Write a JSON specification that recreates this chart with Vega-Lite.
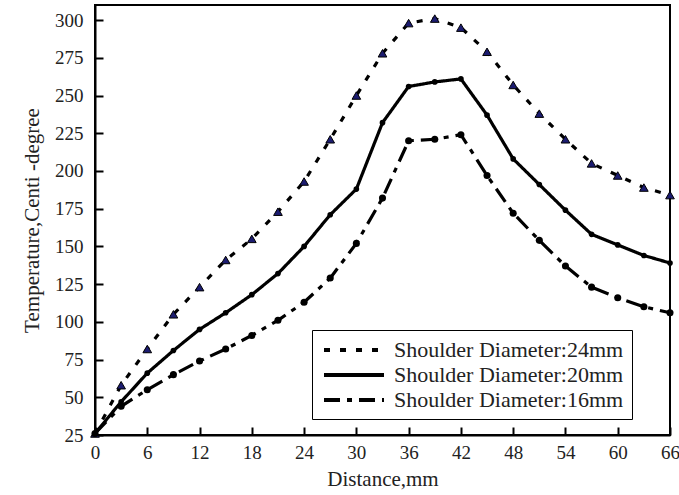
{
  "$schema": "https://vega.github.io/schema/vega-lite/v6.json",
  "width": 575,
  "height": 430,
  "autosize": {"type": "none"},
  "padding": {"left": 95, "top": 5, "right": 9, "bottom": 60},
  "background": "white",
  "config": {
    "view": {"stroke": "black", "strokeWidth": 2},
    "font": "Liberation Serif",
    "style": {
      "guide-label": {"font": "Liberation Serif", "fill": "#222"},
      "guide-title": {"font": "Liberation Serif", "fill": "#222"}
    },
    "axis": {
      "grid": false,
      "domainColor": "black",
      "domainWidth": 2,
      "tickColor": "black",
      "tickWidth": 2,
      "tickSize": -8,
      "labelFont": "Liberation Serif",
      "labelColor": "#222",
      "labelFontSize": 19,
      "titleFont": "Liberation Serif",
      "titleFontSize": 21,
      "titleFontWeight": "normal",
      "titleColor": "#222"
    },
    "legend": {
      "labelFont": "Liberation Serif",
      "labelFontSize": 22,
      "labelColor": "#222"
    }
  },
  "data": {
    "values": [
      {"d": 0, "t": 26, "s": "Shoulder Diameter:24mm"},
      {"d": 3, "t": 58, "s": "Shoulder Diameter:24mm"},
      {"d": 6, "t": 82, "s": "Shoulder Diameter:24mm"},
      {"d": 9, "t": 105, "s": "Shoulder Diameter:24mm"},
      {"d": 12, "t": 123, "s": "Shoulder Diameter:24mm"},
      {"d": 15, "t": 141, "s": "Shoulder Diameter:24mm"},
      {"d": 18, "t": 155, "s": "Shoulder Diameter:24mm"},
      {"d": 21, "t": 173, "s": "Shoulder Diameter:24mm"},
      {"d": 24, "t": 193, "s": "Shoulder Diameter:24mm"},
      {"d": 27, "t": 221, "s": "Shoulder Diameter:24mm"},
      {"d": 30, "t": 250, "s": "Shoulder Diameter:24mm"},
      {"d": 33, "t": 278, "s": "Shoulder Diameter:24mm"},
      {"d": 36, "t": 298, "s": "Shoulder Diameter:24mm"},
      {"d": 39, "t": 301, "s": "Shoulder Diameter:24mm"},
      {"d": 42, "t": 295, "s": "Shoulder Diameter:24mm"},
      {"d": 45, "t": 279, "s": "Shoulder Diameter:24mm"},
      {"d": 48, "t": 257, "s": "Shoulder Diameter:24mm"},
      {"d": 51, "t": 238, "s": "Shoulder Diameter:24mm"},
      {"d": 54, "t": 221, "s": "Shoulder Diameter:24mm"},
      {"d": 57, "t": 205, "s": "Shoulder Diameter:24mm"},
      {"d": 60, "t": 197, "s": "Shoulder Diameter:24mm"},
      {"d": 63, "t": 189, "s": "Shoulder Diameter:24mm"},
      {"d": 66, "t": 184, "s": "Shoulder Diameter:24mm"},
      {"d": 0, "t": 26, "s": "Shoulder Diameter:20mm"},
      {"d": 3, "t": 47, "s": "Shoulder Diameter:20mm"},
      {"d": 6, "t": 66, "s": "Shoulder Diameter:20mm"},
      {"d": 9, "t": 81, "s": "Shoulder Diameter:20mm"},
      {"d": 12, "t": 95, "s": "Shoulder Diameter:20mm"},
      {"d": 15, "t": 106, "s": "Shoulder Diameter:20mm"},
      {"d": 18, "t": 118, "s": "Shoulder Diameter:20mm"},
      {"d": 21, "t": 132, "s": "Shoulder Diameter:20mm"},
      {"d": 24, "t": 150, "s": "Shoulder Diameter:20mm"},
      {"d": 27, "t": 171, "s": "Shoulder Diameter:20mm"},
      {"d": 30, "t": 188, "s": "Shoulder Diameter:20mm"},
      {"d": 33, "t": 232, "s": "Shoulder Diameter:20mm"},
      {"d": 36, "t": 256, "s": "Shoulder Diameter:20mm"},
      {"d": 39, "t": 259, "s": "Shoulder Diameter:20mm"},
      {"d": 42, "t": 261, "s": "Shoulder Diameter:20mm"},
      {"d": 45, "t": 237, "s": "Shoulder Diameter:20mm"},
      {"d": 48, "t": 208, "s": "Shoulder Diameter:20mm"},
      {"d": 51, "t": 191, "s": "Shoulder Diameter:20mm"},
      {"d": 54, "t": 174, "s": "Shoulder Diameter:20mm"},
      {"d": 57, "t": 158, "s": "Shoulder Diameter:20mm"},
      {"d": 60, "t": 151, "s": "Shoulder Diameter:20mm"},
      {"d": 63, "t": 144, "s": "Shoulder Diameter:20mm"},
      {"d": 66, "t": 139, "s": "Shoulder Diameter:20mm"},
      {"d": 0, "t": 26, "s": "Shoulder Diameter:16mm"},
      {"d": 3, "t": 44, "s": "Shoulder Diameter:16mm"},
      {"d": 6, "t": 55, "s": "Shoulder Diameter:16mm"},
      {"d": 9, "t": 65, "s": "Shoulder Diameter:16mm"},
      {"d": 12, "t": 74, "s": "Shoulder Diameter:16mm"},
      {"d": 15, "t": 82, "s": "Shoulder Diameter:16mm"},
      {"d": 18, "t": 91, "s": "Shoulder Diameter:16mm"},
      {"d": 21, "t": 101, "s": "Shoulder Diameter:16mm"},
      {"d": 24, "t": 113, "s": "Shoulder Diameter:16mm"},
      {"d": 27, "t": 129, "s": "Shoulder Diameter:16mm"},
      {"d": 30, "t": 152, "s": "Shoulder Diameter:16mm"},
      {"d": 33, "t": 182, "s": "Shoulder Diameter:16mm"},
      {"d": 36, "t": 220, "s": "Shoulder Diameter:16mm"},
      {"d": 39, "t": 221, "s": "Shoulder Diameter:16mm"},
      {"d": 42, "t": 224, "s": "Shoulder Diameter:16mm"},
      {"d": 45, "t": 197, "s": "Shoulder Diameter:16mm"},
      {"d": 48, "t": 172, "s": "Shoulder Diameter:16mm"},
      {"d": 51, "t": 154, "s": "Shoulder Diameter:16mm"},
      {"d": 54, "t": 137, "s": "Shoulder Diameter:16mm"},
      {"d": 57, "t": 123, "s": "Shoulder Diameter:16mm"},
      {"d": 60, "t": 116, "s": "Shoulder Diameter:16mm"},
      {"d": 63, "t": 110, "s": "Shoulder Diameter:16mm"},
      {"d": 66, "t": 106, "s": "Shoulder Diameter:16mm"}
    ]
  },
  "encoding": {
    "x": {
      "field": "d", "type": "quantitative", "title": "Distance,mm",
      "scale": {"domain": [0, 66], "nice": false, "zero": false},
      "axis": {"values": [0, 6, 12, 18, 24, 30, 36, 42, 48, 54, 60, 66], "labelPadding": 16, "titlePadding": 6, "labelFlush": false}
    },
    "y": {
      "field": "t", "type": "quantitative", "title": "Temperature,Centi -degree",
      "scale": {"domain": [25, 310], "nice": false, "zero": false},
      "axis": {"values": [25, 50, 75, 100, 125, 150, 175, 200, 225, 250, 275, 300], "labelPadding": 20, "titlePadding": 12, "labelFlush": false}
    }
  },
  "layer": [
    {
      "mark": {"type": "line", "color": "black", "strokeWidth": 3.2},
      "encoding": {
        "strokeDash": {
          "field": "s", "type": "nominal",
          "sort": ["Shoulder Diameter:24mm", "Shoulder Diameter:20mm", "Shoulder Diameter:16mm"],
          "scale": {
            "domain": ["Shoulder Diameter:24mm", "Shoulder Diameter:20mm", "Shoulder Diameter:16mm"],
            "range": [[6, 10], [1, 0], [16, 7, 5, 7]]
          },
          "legend": {
            "title": null,
            "orient": "none",
            "legendX": 217,
            "legendY": 325,
            "symbolType": "M-3,0H3",
            "symbolStrokeColor": "black",
            "symbolStrokeWidth": 4,
            "symbolSize": 400,
            "symbolOffset": 22,
            "labelFont": "Liberation Serif",
            "labelFontSize": 22,
            "labelColor": "#222",
            "labelOffset": 28,
            "labelLimit": 400,
            "labelExpr": "datum.label + '       '",
            "rowPadding": 2,
            "padding": 8,
            "strokeColor": "black",
            "fillColor": "white"
          }
        }
      }
    },
    {
      "transform": [{"filter": "datum.s == 'Shoulder Diameter:24mm'"}],
      "mark": {"type": "point", "shape": "triangle-up", "filled": true, "fill": "#1c1c70", "stroke": "black", "strokeWidth": 1, "size": 75, "opacity": 1}
    },
    {
      "transform": [{"filter": "datum.s == 'Shoulder Diameter:20mm'"}],
      "mark": {"type": "point", "shape": "circle", "filled": true, "fill": "black", "size": 32, "opacity": 1}
    },
    {
      "transform": [{"filter": "datum.s == 'Shoulder Diameter:16mm'"}],
      "mark": {"type": "point", "shape": "circle", "filled": true, "fill": "black", "size": 50, "opacity": 1}
    }
  ]
}
